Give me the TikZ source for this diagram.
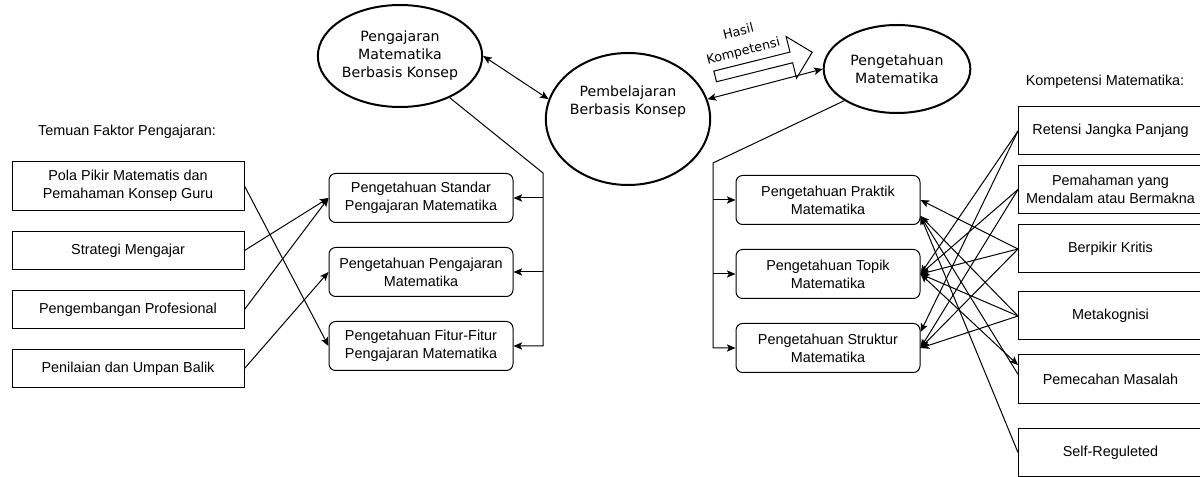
\documentclass[tikz,border=0pt]{standalone}
\usepackage{fontspec}
\setmainfont{Liberation Sans}
\newfontfamily\bulatfont{DejaVu Sans}
\usepackage{tikz}
\usetikzlibrary{arrows.meta}
\usetikzlibrary{positioning}
\usetikzlibrary{shapes,shapes.arrows}

\begin{document}
\begin{tikzpicture}[->,>={Stealth[length=6.5pt,width=5.5pt,inset=1.5pt]},x=0.75pt,y=-0.75pt,line width=0.75pt,font=\fontsize{10.8}{13.5}\selectfont]
\tikzstyle{bulat} = [ellipse, draw, line width=1.5pt, inner sep=0pt, align=center, font=\bulatfont\fontsize{10.6}{13.5}\selectfont]
\tikzstyle{faktor} = [rectangle, draw, minimum width=174pt, minimum height=28.5pt, align=center, node distance=15pt]
\tikzstyle{tahu} = [rectangle, draw, rounded corners=5pt, minimum width=138pt, minimum height=36.75pt, align=center, node distance=18pt]
\tikzstyle{kompetensi} = [rectangle, draw, anchor=west, minimum width=138pt, minimum height=36pt, align=center]

\useasboundingbox (0,0) rectangle (1200,477);
\clip (0,0) rectangle (1200,477);

% lingkaran
\node[bulat, minimum width=111pt, minimum height=76.5pt] (Pengajaran) at (400,56) {Pengajaran\\Matematika\\Berbasis Konsep};
\node[bulat, minimum width=112pt, minimum height=99pt] (Pembelajaran) at (628,119) {\raisebox{10pt}[0pt][0pt]{\begin{tabular}{@{}c@{}}Pembelajaran\\Berbasis Konsep\end{tabular}}};
\node[bulat, minimum width=110pt, minimum height=66pt] (PengMat) at (897,69) {Pengetahuan\\Matematika};

\node[single arrow, draw, inner sep=3.75pt, minimum height=75pt, single arrow head extend=12pt, rotate=14] (panahHasil) at (761,65) {};
\node[rotate=14, align=center, font=\bulatfont\fontsize{9.6}{15}\selectfont] (teksHasil) at (741,42) {Hasil\\Kompetensi};

\draw[<->] (Pengajaran.east) -- (Pembelajaran.166);
\draw[<->] (Pembelajaran.14) -- (PengMat.west);

% faktor pengajaran
\node[] (judulFaktor) at (127,132) {Temuan Faktor Pengajaran:};
\node[faktor, minimum height=36.75pt] (PolaPikir) at (128,186) {Pola Pikir Matematis dan\\Pemahaman Konsep Guru};
\node[faktor] (Strategi) [below = of PolaPikir] {Strategi Mengajar};
\node[faktor] (Pengembangan) [below = of Strategi] {Pengembangan Profesional};
\node[faktor] (Penilaian) [below = of Pengembangan] {Penilaian dan Umpan Balik};

\node[tahu] (PStandar) at (421,198) {Pengetahuan Standar\\Pengajaran Matematika};
\node[tahu] (PPengajaran) [below = of PStandar] {Pengetahuan Pengajaran\\Matematika};
\node[tahu] (PFitur) [below = of PPengajaran] {Pengetahuan Fitur-Fitur\\Pengajaran Matematika};

\draw (PolaPikir.east) -- (PFitur.west);
\draw (Strategi.east) -- (PStandar.west);
\draw (Pengembangan.east) -- (PStandar.west);
\draw (Penilaian.east) -- (PPengajaran.west);

\coordinate (tekukKiri) at (543,173);
\draw (Pengajaran.-40) -- (tekukKiri) |- (PFitur.east);
\draw (tekukKiri |- PStandar.east) -- (PStandar.east);
\draw (tekukKiri |- PPengajaran.east) -- (PPengajaran.east);

% pengetahuan matematika
\node[tahu] (Praktik) at (828,200) {Pengetahuan Praktik\\Matematika};
\node[tahu] (Topik) [below = of Praktik] {Pengetahuan Topik\\Matematika};
\node[tahu] (Struktur) [below = of Topik] {Pengetahuan Struktur\\Matematika};

\coordinate (tekukKanan) at (713,163);
\draw (PengMat.211) -- (tekukKanan) |- (Struktur.west);
\draw (tekukKanan |- Praktik.west) -- (Praktik.west);
\draw (tekukKanan |- Topik.west) -- (Topik.west);

% kompetensi matematika
\node[] (judulKompetensi) at (1105,82) {Kompetensi Matematika:};
\node[kompetensi] (Retensi) at (1018,131) {Retensi Jangka Panjang};
\node[kompetensi] (Pemahaman) at (1018,189.5) {Pemahaman yang\\Mendalam atau Bermakna};
\node[kompetensi] (Berpikir) at (1018,249) {Berpikir Kritis};
\node[kompetensi] (Metakognisi) at (1018,316) {Metakognisi};
\node[kompetensi] (Masalah) at (1018,379) {Pemecahan Masalah};
\node[kompetensi] (SelfReg) at (1018,452.5) {Self-Reguleted};

\coordinate (PraktikB) at ([yshift=-12pt]Praktik.east);
\coordinate (StrukturA) at ([yshift=12pt]Struktur.east);
\coordinate (MasalahA) at ([yshift=10.5pt]Masalah.west);
\coordinate (MasalahB) at ([yshift=3.5pt]Masalah.west);

\draw (Retensi.west) -- (Topik.east);
\draw (Retensi.west) -- (StrukturA);
\draw (Pemahaman.west) -- (Topik.east);
\draw (Pemahaman.west) -- (Struktur.east);
\draw (Berpikir.west) -- (Praktik.east);
\draw (Berpikir.west) -- (Topik.east);
\draw (Berpikir.west) -- (Struktur.east);
\draw (Metakognisi.west) -- (PraktikB);
\draw (Metakognisi.west) -- (Topik.east);
\draw (Metakognisi.west) -- (Struktur.east);
\draw (MasalahB) -- (PraktikB);
\draw[<->] (Topik.east) -- (MasalahA);
\draw (SelfReg.west) -- (PraktikB);
\end{tikzpicture}
\end{document}
